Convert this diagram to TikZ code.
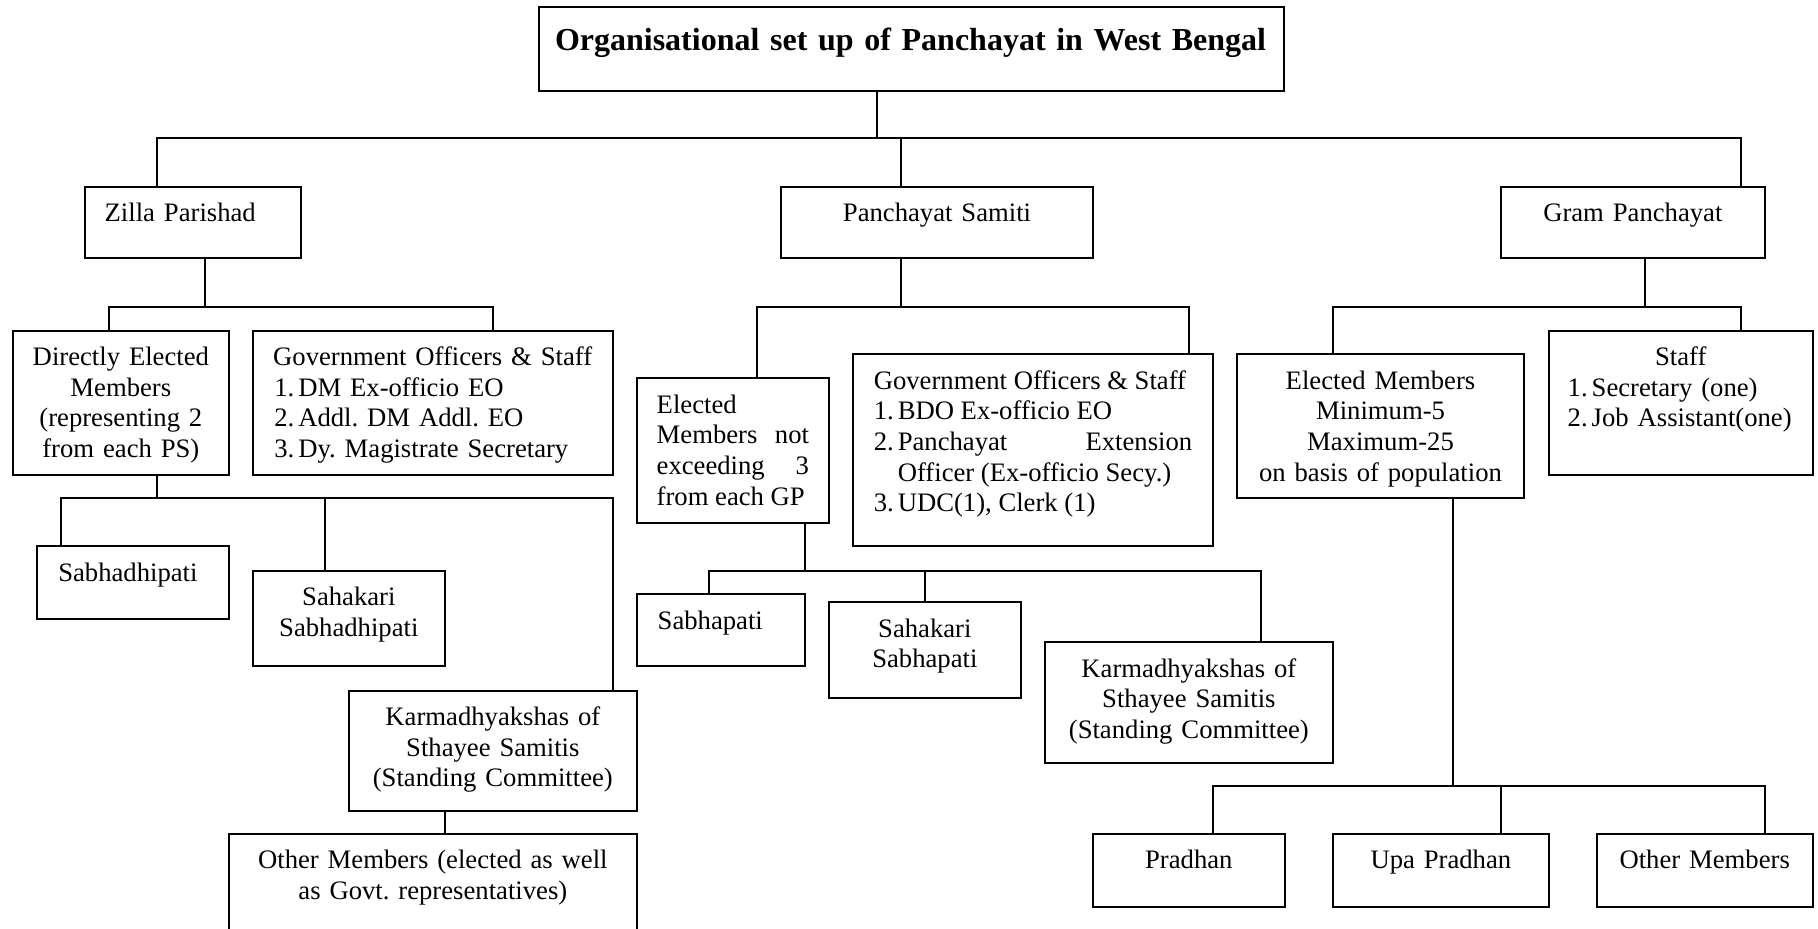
\documentclass[tikz,border=0pt]{standalone}
\usepackage{fontspec}
\setmainfont{Liberation Serif}
\usetikzlibrary{calc}
\newdimen\unitpx
\unitpx=0.45pt
\newcommand{\orgfont}{\fontsize{12}{13.8}\selectfont}
\newcommand{\titlefont}{\fontsize{14.4}{17}\selectfont\bfseries}
\newcommand{\orghead}[1]{\makebox[\linewidth]{#1}\par}
\newcommand{\orgitem}[2]{\par\noindent\hangindent=24\unitpx\hangafter=1\makebox[24\unitpx][l]{#1}#2\par}
\frenchspacing
\hyphenpenalty=10000
\exhyphenpenalty=10000
\tikzset{
    orgbox/.style n args={3}{draw, line width=0.85pt, anchor=north west, outer sep=0pt,
            inner ysep=0pt, inner xsep={#3*\unitpx}, text width={(#1-2*#3)*\unitpx},
            text height={34.7*\unitpx}, text depth={(#2-34.7)*\unitpx}, font=\orgfont},
    link/.style={line width=0.85pt},
}

\begin{document}
\begin{tikzpicture}[x=0.45pt, y=-0.45pt]
    \useasboundingbox (0,0) rectangle (1818,928);
    % --- Title ---
    \node[orgbox={745}{83.4}{16}, align=left, font=\titlefont,
        text height={42.7*\unitpx}, text depth={40.7*\unitpx}] (title) at (539,7.3)
        {Organisational set up of Panchayat in West Bengal};
    % --- Three tiers ---
    \node[orgbox={216.3}{71.6}{20}, align=left] (zp) at (84.7,186.7) {Zilla Parishad};
    \node[orgbox={312.6}{71.6}{10}, align=center] (ps) at (780.7,186.7) {Panchayat Samiti};
    \node[orgbox={264.3}{71.6}{10}, align=center] (gp) at (1500.7,186.7) {Gram Panchayat};
    % --- Zilla Parishad ---
    \node[orgbox={216.3}{144}{6}, align=center] (zpelect) at (12.7,330.7)
        {Directly Elected\\ Members\\ (representing 2\\ from each PS)};
    \node[orgbox={360}{144}{21.6}, align=left] (zpgovt) at (252.7,330.7)
        {\orghead{Government Officers \& Staff}\orgitem{1.}{DM Ex-officio EO}\orgitem{2.}{Addl. DM Addl. EO}\orgitem{3.}{Dy. Magistrate Secretary}};
    \node[orgbox={192.3}{72.4}{21.6}, align=left] (zpsabha) at (36.7,546.3) {Sabhadhipati};
    \node[orgbox={192.3}{95.6}{8}, align=center] (zpsahakari) at (252.7,570.7) {Sahakari\\ Sabhadhipati};
    \node[orgbox={288.3}{120}{8}, align=center] (zpkarma) at (348.7,690.7)
        {Karmadhyakshas of\\ Sthayee Samitis\\ (Standing Committee)};
    \node[orgbox={408.3}{96}{8}, align=center] (zpother) at (228.7,834)
        {Other Members (elected as well\\ as Govt. representatives)};
    % --- Panchayat Samiti ---
    \node[orgbox={192.3}{144.4}{20}, align=justify] (pselect) at (636.7,378.3)
        {\tolerance=10000 Elected\linebreak Members not\linebreak exceeding 3\linebreak from each GP};
    \node[orgbox={360.6}{192}{21.1}, align=justify] (psgovt) at (852.7,354.3)
        {Government Officers \& Staff\par\orgitem{1.}{BDO Ex-officio EO}\orgitem{2.}{Panchayat Extension Officer (Ex-officio Secy.)}\orgitem{3.}{UDC(1), Clerk (1)}};
    \node[orgbox={168.3}{72}{21}, align=left] (pssabha) at (636.7,594.3) {Sabhapati};
    \node[orgbox={192.3}{96}{8}, align=center] (pssahakari) at (828.7,602.3) {Sahakari\\ Sabhapati};
    \node[orgbox={288.3}{120.4}{8}, align=center] (pskarma) at (1044.7,642.3)
        {Karmadhyakshas of\\ Sthayee Samitis\\ (Standing Committee)};
    % --- Gram Panchayat ---
    \node[orgbox={287.6}{144}{8}, align=center] (gpelect) at (1236.7,354.3)
        {Elected Members\\ Minimum-5\\ Maximum-25\\ on basis of population};
    \node[orgbox={264}{144}{19}, align=left] (gpstaff) at (1548.7,330.7)
        {\orghead{Staff}\orgitem{1.}{Secretary (one)}\orgitem{2.}{Job Assistant(one)}};
    \node[orgbox={192.3}{72.7}{8}, align=center] (pradhan) at (1092.7,834) {Pradhan};
    \node[orgbox={216.3}{72.7}{8}, align=center] (upapradhan) at (1332.7,834) {Upa Pradhan};
    \node[orgbox={216}{72.7}{8}, align=center] (gpother) at (1596.7,834) {Other Members};
    % --- Connectors: top level ---
    \draw[link] ($(title.south west)+(337.7,0)$) -- ++(0,47.6);
    \draw[link] ($(zp.north west)+(72,0)$) |- ($(gp.north west)+(240.3,-48.4)$) -- ($(gp.north west)+(240.3,0)$);
    \draw[link] ($(ps.north west)+(120.3,0)$) -- ++(0,-48.4);
    % --- Connectors: Zilla Parishad ---
    \draw[link] ($(zp.south west)+(120.3,0)$) -- ++(0,48.4);
    \draw[link] ($(zpelect.north west)+(96,0)$) |- ($(zpgovt.north west)+(240,-24)$) -- ($(zpgovt.north west)+(240,0)$);
    \draw[link] ($(zpelect.south west)+(144,0)$) -- ++(0,23.6);
    \draw[link] ($(zpsabha.north west)+(24,0)$) |- ($(zpkarma.north west)+(264,-192.4)$) -- ($(zpkarma.north west)+(264,0)$);
    \draw[link] ($(zpsahakari.north west)+(72.3,0)$) -- ++(0,-72.4);
    \draw[link] ($(zpkarma.south west)+(96.3,0)$) -- ($(zpother.north west)+(216.3,0)$);
    % --- Connectors: Panchayat Samiti ---
    \draw[link] ($(ps.south west)+(120.3,0)$) -- ++(0,48.4);
    \draw[link] ($(pselect.north west)+(120,0)$) |- ($(psgovt.north west)+(336,-47.6)$) -- ($(psgovt.north west)+(336,0)$);
    \draw[link] ($(pselect.south west)+(168.3,0)$) -- ++(0,48);
    \draw[link] ($(pssabha.north west)+(72.3,0)$) |- ($(pskarma.north west)+(216.3,-71.6)$) -- ($(pskarma.north west)+(216.3,0)$);
    \draw[link] ($(pssahakari.north west)+(96,0)$) -- ++(0,-31.6);
    % --- Connectors: Gram Panchayat ---
    \draw[link] ($(gp.south west)+(144.3,0)$) -- ++(0,48.4);
    \draw[link] ($(gpelect.north west)+(96,0)$) |- ($(gpstaff.north west)+(192.3,-24)$) -- ($(gpstaff.north west)+(192.3,0)$);
    \draw[link] ($(gpelect.south west)+(216.3,0)$) -- ++(0,288);
    \draw[link] ($(pradhan.north west)+(120,0)$) |- ($(gpother.north west)+(168.3,-47.7)$) -- ($(gpother.north west)+(168.3,0)$);
    \draw[link] ($(upapradhan.north west)+(168,0)$) -- ++(0,-47.7);
\end{tikzpicture}
\end{document}
